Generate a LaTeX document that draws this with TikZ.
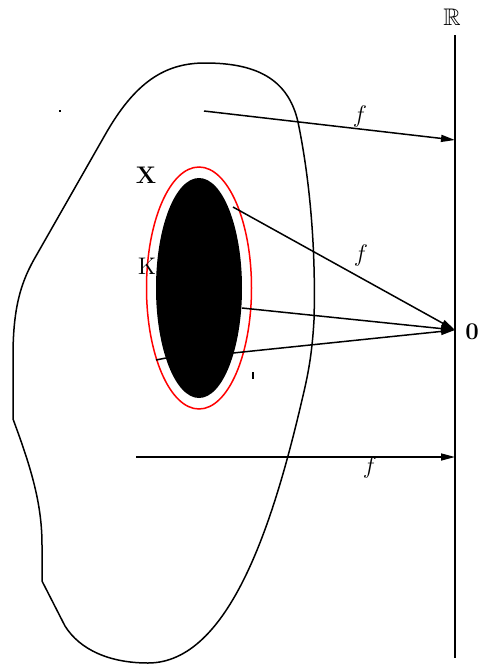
\documentclass[tikz,border=0pt]{standalone}
\usepackage{amssymb}
\usetikzlibrary{arrows.meta,positioning,shapes.geometric}
\begin{document}
\begin{tikzpicture}[
    x=0.5pt, y=-0.5pt,
    font=\fontsize{12}{14}\selectfont,
    maparrow/.style={-{Triangle[length=7pt, width=3.5pt]}, line width=0.75pt},
    outline/.style={line width=0.75pt},
    lbl/.style={inner sep=0pt}
  ]
    \useasboundingbox (0,0) rectangle (479,665);
    \draw[outline] (13,419) -- (13,356) .. controls (13,305) and (22,280) .. (36,256)
      -- (105,135) .. controls (135,82) and (165,63) .. (205,63)
      .. controls (255,63) and (288,78) .. (298,122)
      .. controls (310,180) and (316,250) .. (314,320)
      .. controls (312,355) and (308,375) .. (302,400)
      .. controls (274,520) and (230,663) .. (148,663)
      .. controls (110,663) and (80,650) .. (65,626)
      -- (42,581) -- (42,545) .. controls (42,505) and (32,470) .. cycle;
    \node[ellipse, draw=red, line width=0.75pt, minimum width=52.5pt, minimum height=121pt, inner sep=0pt] (nbhd) at (199,288) {};
    \node[ellipse, fill=black, minimum width=43pt, minimum height=110pt, inner sep=0pt] (K) at (199,288) {};
    \coordinate (rtop) at (455,35);
    \coordinate (rbot) at (455,658);
    \coordinate (zero) at (455,330);
    \coordinate (top) at (455,140);
    \coordinate (bottom) at (455,457);
    \coordinate (xa) at (204,111);
    \coordinate (xb) at (136,457);
    \coordinate (ka) at (233,207);
    \coordinate (kb) at (242,308);
    \coordinate (kc) at (233,353);
    \coordinate (na) at (156,360);
    \coordinate (nb) at (166,358);
    \draw[outline] (rtop) -- (rbot);
    \draw[maparrow] (xa) -- (top);
    \draw[maparrow] (ka) -- (zero);
    \draw[maparrow] (kb) -- (zero);
    \draw[maparrow] (kc) -- (zero);
    \draw[maparrow] (xb) -- (bottom);
    \draw[outline] (na) -- (nb);
    \draw[line width=1pt] (253,372) -- (253,379);
    \fill (59,110) rectangle (61,112);
    \node[lbl] (reals) at (452,17) {$\mathbb{R}$};
    \node[lbl] (zerolab) at (472,332) {$\mathbf{0}$};
    \node[lbl] (f1) at (360,116) {$f$};
    \node[lbl] (f2) at (361,255) {$f$};
    \node[lbl] (f3) at (370,467) {$f$};
    \node[lbl] (xlab) at (146,175) {$\mathbf{X}$};
    \node[lbl] (klab) at (147,266) {K};
\end{tikzpicture}
\end{document}
